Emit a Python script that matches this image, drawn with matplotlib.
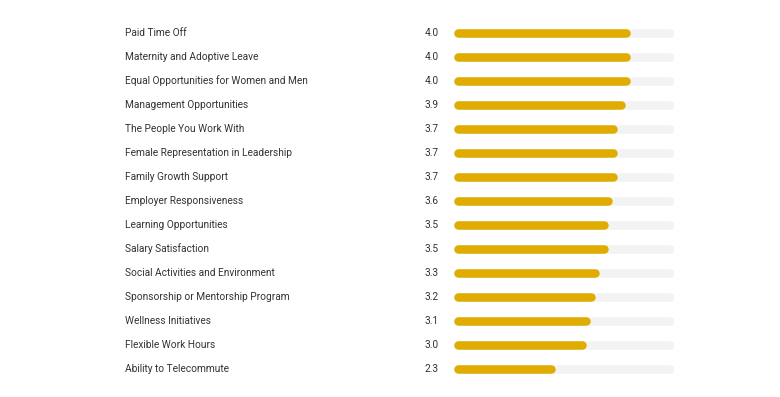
import matplotlib.pyplot as plt
import matplotlib.transforms as mtransforms

categories = [
    "Paid Time Off",
    "Maternity and Adoptive Leave",
    "Equal Opportunities for Women and Men",
    "Management Opportunities",
    "The People You Work With",
    "Female Representation in Leadership",
    "Family Growth Support",
    "Employer Responsiveness",
    "Learning Opportunities",
    "Salary Satisfaction",
    "Social Activities and Environment",
    "Sponsorship or Mentorship Program",
    "Wellness Initiatives",
    "Flexible Work Hours",
    "Ability to Telecommute",
]
scores = [4.0, 4.0, 4.0, 3.9, 3.7, 3.7, 3.7, 3.6, 3.5, 3.5, 3.3, 3.2, 3.1, 3.0, 2.3]
max_score = 5.0

W, H = 780, 397
fig = plt.figure(figsize=(W / 100, H / 100), dpi=100)
plt.rcParams['font.family'] = ['Roboto', 'DejaVu Sans']

# bar area in pixels
left, right = 454, 674
row_h = 24
top = 32.5 - row_h / 2
n = len(categories)
bottom = top + n * row_h
ax = fig.add_axes([left / W, 1 - bottom / H, (right - left) / W, n * row_h / H])
ax.set_xlim(0, max_score)
ax.set_ylim(n - 0.5, -0.5)
ax.axis('off')

bar_px = 8.5
lw = bar_px * 72 / 100
r = (bar_px / 2) / (right - left) * max_score  # round cap radius in data units

gold = '#E0AC00'
track = '#F3F3F3'
text_col = '#333333'

trans = mtransforms.blended_transform_factory(fig.transFigure, ax.transData)
for i, (cat, v) in enumerate(zip(categories, scores)):
    ax.plot([r, max_score - r], [i, i], color=track, lw=lw, solid_capstyle='round')
    ax.plot([r, v - r], [i, i], color=gold, lw=lw, solid_capstyle='round')
    ax.text(125 / W, i, cat, transform=trans, ha='left', va='center',
            fontsize=7.3, color=text_col)
    ax.text(439 / W, i, f"{v:.1f}", transform=trans, ha='right', va='center',
            fontsize=7.3, color=text_col)

fig.savefig('out.png', dpi=100)
